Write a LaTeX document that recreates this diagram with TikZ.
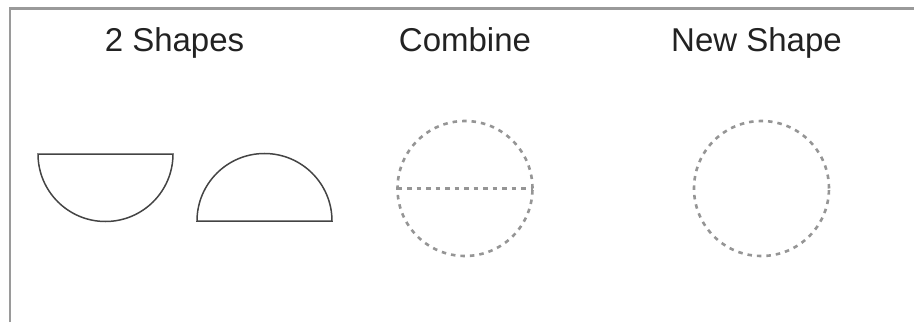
\documentclass[tikz,border=0pt]{standalone}
\usepackage{fontspec}
\setmainfont{Liberation Sans}
\definecolor{txt}{HTML}{222222}
\definecolor{frame}{HTML}{9A9A9A}
\definecolor{solid}{HTML}{444444}
\definecolor{dash}{HTML}{959595}
\begin{document}
\begin{tikzpicture}[x=1pt,y=1pt,
  label/.style={font=\fontsize{33}{36}\selectfont, text=txt, anchor=base, inner sep=0pt},
  shapeline/.style={draw=solid, line width=1.5pt},
  dashline/.style={draw=dash, line width=2.6pt, dash pattern=on 4.5pt off 5pt}]
\useasboundingbox (0,0) rectangle (914,322);
% frame (top and left edges)
\draw[frame, line width=2.5pt] (10,0) -- (10,313.5) -- (914,313.5);
% titles
\node[label] (t1) at (174.5,270) {2 Shapes};
\node[label] (t2) at (465,270) {Combine};
\node[label] (t3) at (756.5,270) {New Shape};
% two half discs
\draw[shapeline] (38,168) -- (173,168) arc[start angle=0, end angle=-180, radius=67.5] -- cycle;
\draw[shapeline] (197,101) -- (332,101) arc[start angle=0, end angle=180, radius=67.5] -- cycle;
% combined
\draw[dashline] (465,133.5) circle[radius=67.5];
\draw[dashline] (397.5,133.5) -- (532.5,133.5);
% new shape
\draw[dashline] (761.5,133.5) circle[radius=67.5];
\end{tikzpicture}
\end{document}
